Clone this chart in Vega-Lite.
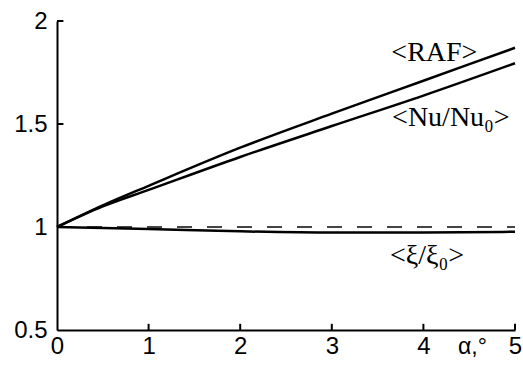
{
  "$schema": "https://vega.github.io/schema/vega-lite/v6.json",
  "width": 458,
  "height": 309,
  "autosize": "none",
  "padding": {"left": 57, "top": 21, "right": 8, "bottom": 38},
  "background": "white",
  "config": {"view": {"stroke": null}},
  "datasets": {
    "curves": [
      {"series": "RAF", "x": 0, "y": 1},
      {"series": "RAF", "x": 0.5, "y": 1.105},
      {"series": "RAF", "x": 1, "y": 1.2},
      {"series": "RAF", "x": 2, "y": 1.385},
      {"series": "RAF", "x": 3, "y": 1.55},
      {"series": "RAF", "x": 4, "y": 1.71},
      {"series": "RAF", "x": 5, "y": 1.87},
      {"series": "Nu", "x": 0, "y": 1},
      {"series": "Nu", "x": 0.5, "y": 1.1},
      {"series": "Nu", "x": 1, "y": 1.18},
      {"series": "Nu", "x": 2, "y": 1.34},
      {"series": "Nu", "x": 3, "y": 1.49},
      {"series": "Nu", "x": 4, "y": 1.638},
      {"series": "Nu", "x": 5, "y": 1.795},
      {"series": "xi", "x": 0, "y": 1},
      {"series": "xi", "x": 1, "y": 0.99},
      {"series": "xi", "x": 2, "y": 0.979},
      {"series": "xi", "x": 3, "y": 0.973},
      {"series": "xi", "x": 4, "y": 0.973},
      {"series": "xi", "x": 5, "y": 0.977}
    ],
    "ref": [
      {"x": 0, "y": 1},
      {"x": 5, "y": 1}
    ],
    "xticks": [
      {"x": 1, "y": 0.5, "y2": 0.53},
      {"x": 2, "y": 0.5, "y2": 0.53},
      {"x": 3, "y": 0.5, "y2": 0.53},
      {"x": 4, "y": 0.5, "y2": 0.53},
      {"x": 5, "y": 0.5, "y2": 0.53}
    ],
    "yticks": [
      {"y": 1.5, "x": 0, "x2": 0.07},
      {"y": 2, "x": 0, "x2": 0.07}
    ],
    "labels": [
      {"x": 4.12, "y": 1.845, "text": "<RAF>"},
      {"x": 4.3, "y": 1.53, "text": "<Nu/Nu₀>"},
      {"x": 4.04, "y": 0.86, "text": "<ξ/ξ₀>"}
    ]
  },
  "layer": [
    {
      "data": {"name": "ref"},
      "mark": {"type": "line", "color": "#444", "strokeWidth": 2, "strokeDash": [15, 15]},
      "encoding": {
        "x": {
          "field": "x", "type": "quantitative",
          "scale": {"domain": [0, 5], "nice": false},
          "axis": {
            "values": [0, 1, 2, 3, 4, 5],
            "format": "d",
            "title": "α,°",
            "titleFont": "Liberation Sans",
            "titleFontSize": 23,
            "titleFontWeight": "normal",
            "titleColor": "black",
            "titleX": 415,
            "titleY": 16,
            "titleAlign": "center",
            "titleBaseline": "middle",
            "grid": false,
            "domainColor": "black",
            "domainWidth": 2,
            "ticks": false,
            "labelPadding": 4,
            "labelFont": "Liberation Sans",
            "labelFontSize": 24,
            "labelColor": "black",
            "labelFlush": false,
            "labelOverlap": false
          }
        },
        "y": {
          "field": "y", "type": "quantitative",
          "scale": {"domain": [0.5, 2], "nice": false, "zero": false},
          "axis": {
            "values": [0.5, 1, 1.5, 2],
            "format": "~g",
            "title": null,
            "grid": false,
            "domainColor": "black",
            "domainWidth": 2,
            "ticks": false,
            "labelPadding": 10,
            "labelFont": "Liberation Sans",
            "labelFontSize": 24,
            "labelColor": "black",
            "labelFlush": false,
            "labelOverlap": false
          }
        }
      }
    },
    {
      "data": {"name": "xticks"},
      "mark": {"type": "rule", "color": "black", "strokeWidth": 2},
      "encoding": {
        "x": {"field": "x", "type": "quantitative"},
        "y": {"field": "y", "type": "quantitative"},
        "y2": {"field": "y2"}
      }
    },
    {
      "data": {"name": "yticks"},
      "mark": {"type": "rule", "color": "black", "strokeWidth": 2},
      "encoding": {
        "y": {"field": "y", "type": "quantitative"},
        "x": {"field": "x", "type": "quantitative"},
        "x2": {"field": "x2"}
      }
    },
    {
      "data": {"name": "curves"},
      "mark": {"type": "line", "color": "black", "strokeWidth": 2.5, "interpolate": "monotone"},
      "encoding": {
        "x": {"field": "x", "type": "quantitative"},
        "y": {"field": "y", "type": "quantitative"},
        "detail": {"field": "series"}
      }
    },
    {
      "data": {"name": "labels"},
      "mark": {"type": "text", "font": "Liberation Serif", "fontSize": 28, "color": "black", "align": "center", "baseline": "middle"},
      "encoding": {
        "x": {"field": "x", "type": "quantitative"},
        "y": {"field": "y", "type": "quantitative"},
        "text": {"field": "text"}
      }
    }
  ]
}
